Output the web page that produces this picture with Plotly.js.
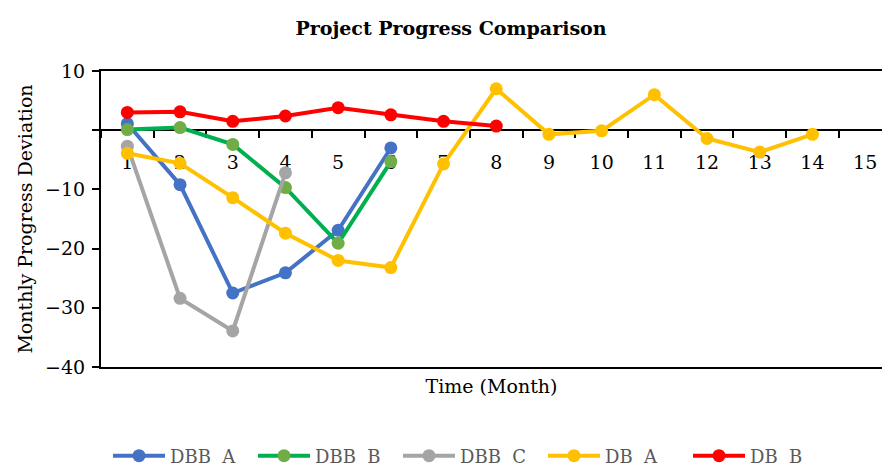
<!DOCTYPE html>
<html><head><meta charset="utf-8">
<script src="https://cdn.plot.ly/plotly-3.0.1.min.js"></script>
<style>html,body{margin:0;padding:0;background:#fff}</style>
</head><body><div id="chart" style="width:882px;height:466px"></div>
<script>
const months = [1,2,3,4,5,6,7,8,9,10,11,12,13,14,15];
const monthLabels = ['1','2','3','4','5','6','7','8','9','10','11','12','13','14','15'];
const dbbA = [1.1, -9.2, -27.5, -24.1, -16.9, -3.0];
const dbbB = [0.1, 0.45, -2.4, -9.7, -19.1, -5.3];
const dbbC = [-2.7, -28.4, -33.9, -7.2];
const dbA  = [-3.9, -5.6, -11.4, -17.4, -22.0, -23.2, -5.7, 7.0, -0.7, -0.1, 6.0, -1.4, -3.7, -0.7];
const dbB  = [3.0, 3.1, 1.5, 2.4, 3.8, 2.6, 1.5, 0.7];
const seriesNames = ['DBB\u00a0 A','DBB\u00a0 B','DBB\u00a0 C','DB\u00a0 A','DB\u00a0 B'];
const yTickVals = [10, 0, -10, -20, -30, -40];
const yTickText = ['10', '', '\u221210', '\u221220', '\u221230', '\u221240'];

const FONT = '"Palatino Linotype","Book Antiqua","DejaVu Serif",serif';
const LW = 4, MS = 13;
function mk(name, y, lineColor, markerColor) {
  return {type:'scatter', mode:'lines+markers', name:name,
    x: months.slice(0, y.length), y: y,
    line:{color:lineColor, width:LW}, marker:{color:markerColor, size:MS},
    cliponaxis:false};
}
const traces = [
  {type:'scatter', mode:'markers', x:[], y:[], xaxis:'x2', showlegend:false, hoverinfo:'skip'},
  {type:'scatter', mode:'markers', x:[], y:[], xaxis:'x3', showlegend:false, hoverinfo:'skip'},
  mk(seriesNames[0], dbbA, '#4472C4', '#4472C4'),
  mk(seriesNames[1], dbbB, '#00B050', '#70AD47'),
  mk(seriesNames[2], dbbC, '#A5A5A5', '#A5A5A5'),
  mk(seriesNames[3], dbA,  '#FFC000', '#FFC000'),
  mk(seriesNames[4], dbB,  '#FF0000', '#FF0000'),
];
const halfTicks = [];
for (let i = 0; i <= months.length; i++) halfTicks.push(months[0] - 0.5 + i);
const xr = [0.5, 15.32];
const zeroPos = (0 - (-40)) / (10 - (-40));

const layout = {
  width:882, height:466,
  margin:{l:101, r:0, t:71, b:99},
  paper_bgcolor:'#fff', plot_bgcolor:'#fff',
  font:{family:FONT, color:'#000', size:19},
  title:{text:'<b>Project Progress Comparison</b>', font:{family:FONT, size:19, color:'#000'},
    x:451/882, xref:'container', xanchor:'center', y:1-28/466, yref:'container', yanchor:'middle'},
  showlegend:true,
  legend:{orientation:'h', xref:'container', yref:'container', x:108/882, xanchor:'left', y:1-456/466, yanchor:'middle',
    font:{family:FONT, size:18, color:'#595959'}, itemwidth:52, entrywidth:78, entrywidthmode:'pixels', traceorder:'normal'},
  xaxis:{range:xr, showline:true, mirror:true, linecolor:'#000', linewidth:2, showgrid:false, zeroline:false, layer:'below traces',
    showticklabels:false, ticks:'', title:{text:'Time (Month)', font:{family:FONT, size:19}, standoff:12}, automargin:false},
  xaxis2:{overlaying:'x', anchor:'free', position:zeroPos, range:xr, side:'bottom', layer:'below traces',
    tickmode:'array', tickvals:halfTicks, ticks:'outside', ticklen:7, tickwidth:2, tickcolor:'#000',
    showline:true, linecolor:'#000', linewidth:2, showgrid:false, zeroline:false, showticklabels:false},
  xaxis3:{overlaying:'x', anchor:'free', position:zeroPos, range:xr, side:'bottom', layer:'below traces',
    tickmode:'array', tickvals:months, ticktext:monthLabels, ticks:'', showline:false, showgrid:false, zeroline:false,
    showticklabels:true, ticklabelstandoff:19, tickfont:{family:FONT, size:19, color:'#000'}},
  yaxis:{range:[-40,10], showline:true, linecolor:'#000', linewidth:2, showgrid:false, zeroline:false, layer:'below traces',
    tickmode:'array', tickvals:yTickVals, ticktext:yTickText, ticks:'outside', ticklen:7, tickwidth:2, tickcolor:'#000',
    tickfont:{family:FONT, size:19, color:'#000'}, ticklabelstandoff:3,
    title:{text:'Monthly Progress Deviation', font:{family:FONT, size:19}, standoff:7}, automargin:false}
};
Plotly.newPlot('chart', traces, layout, {displayModeBar:false, staticPlot:true});
</script></body></html>
